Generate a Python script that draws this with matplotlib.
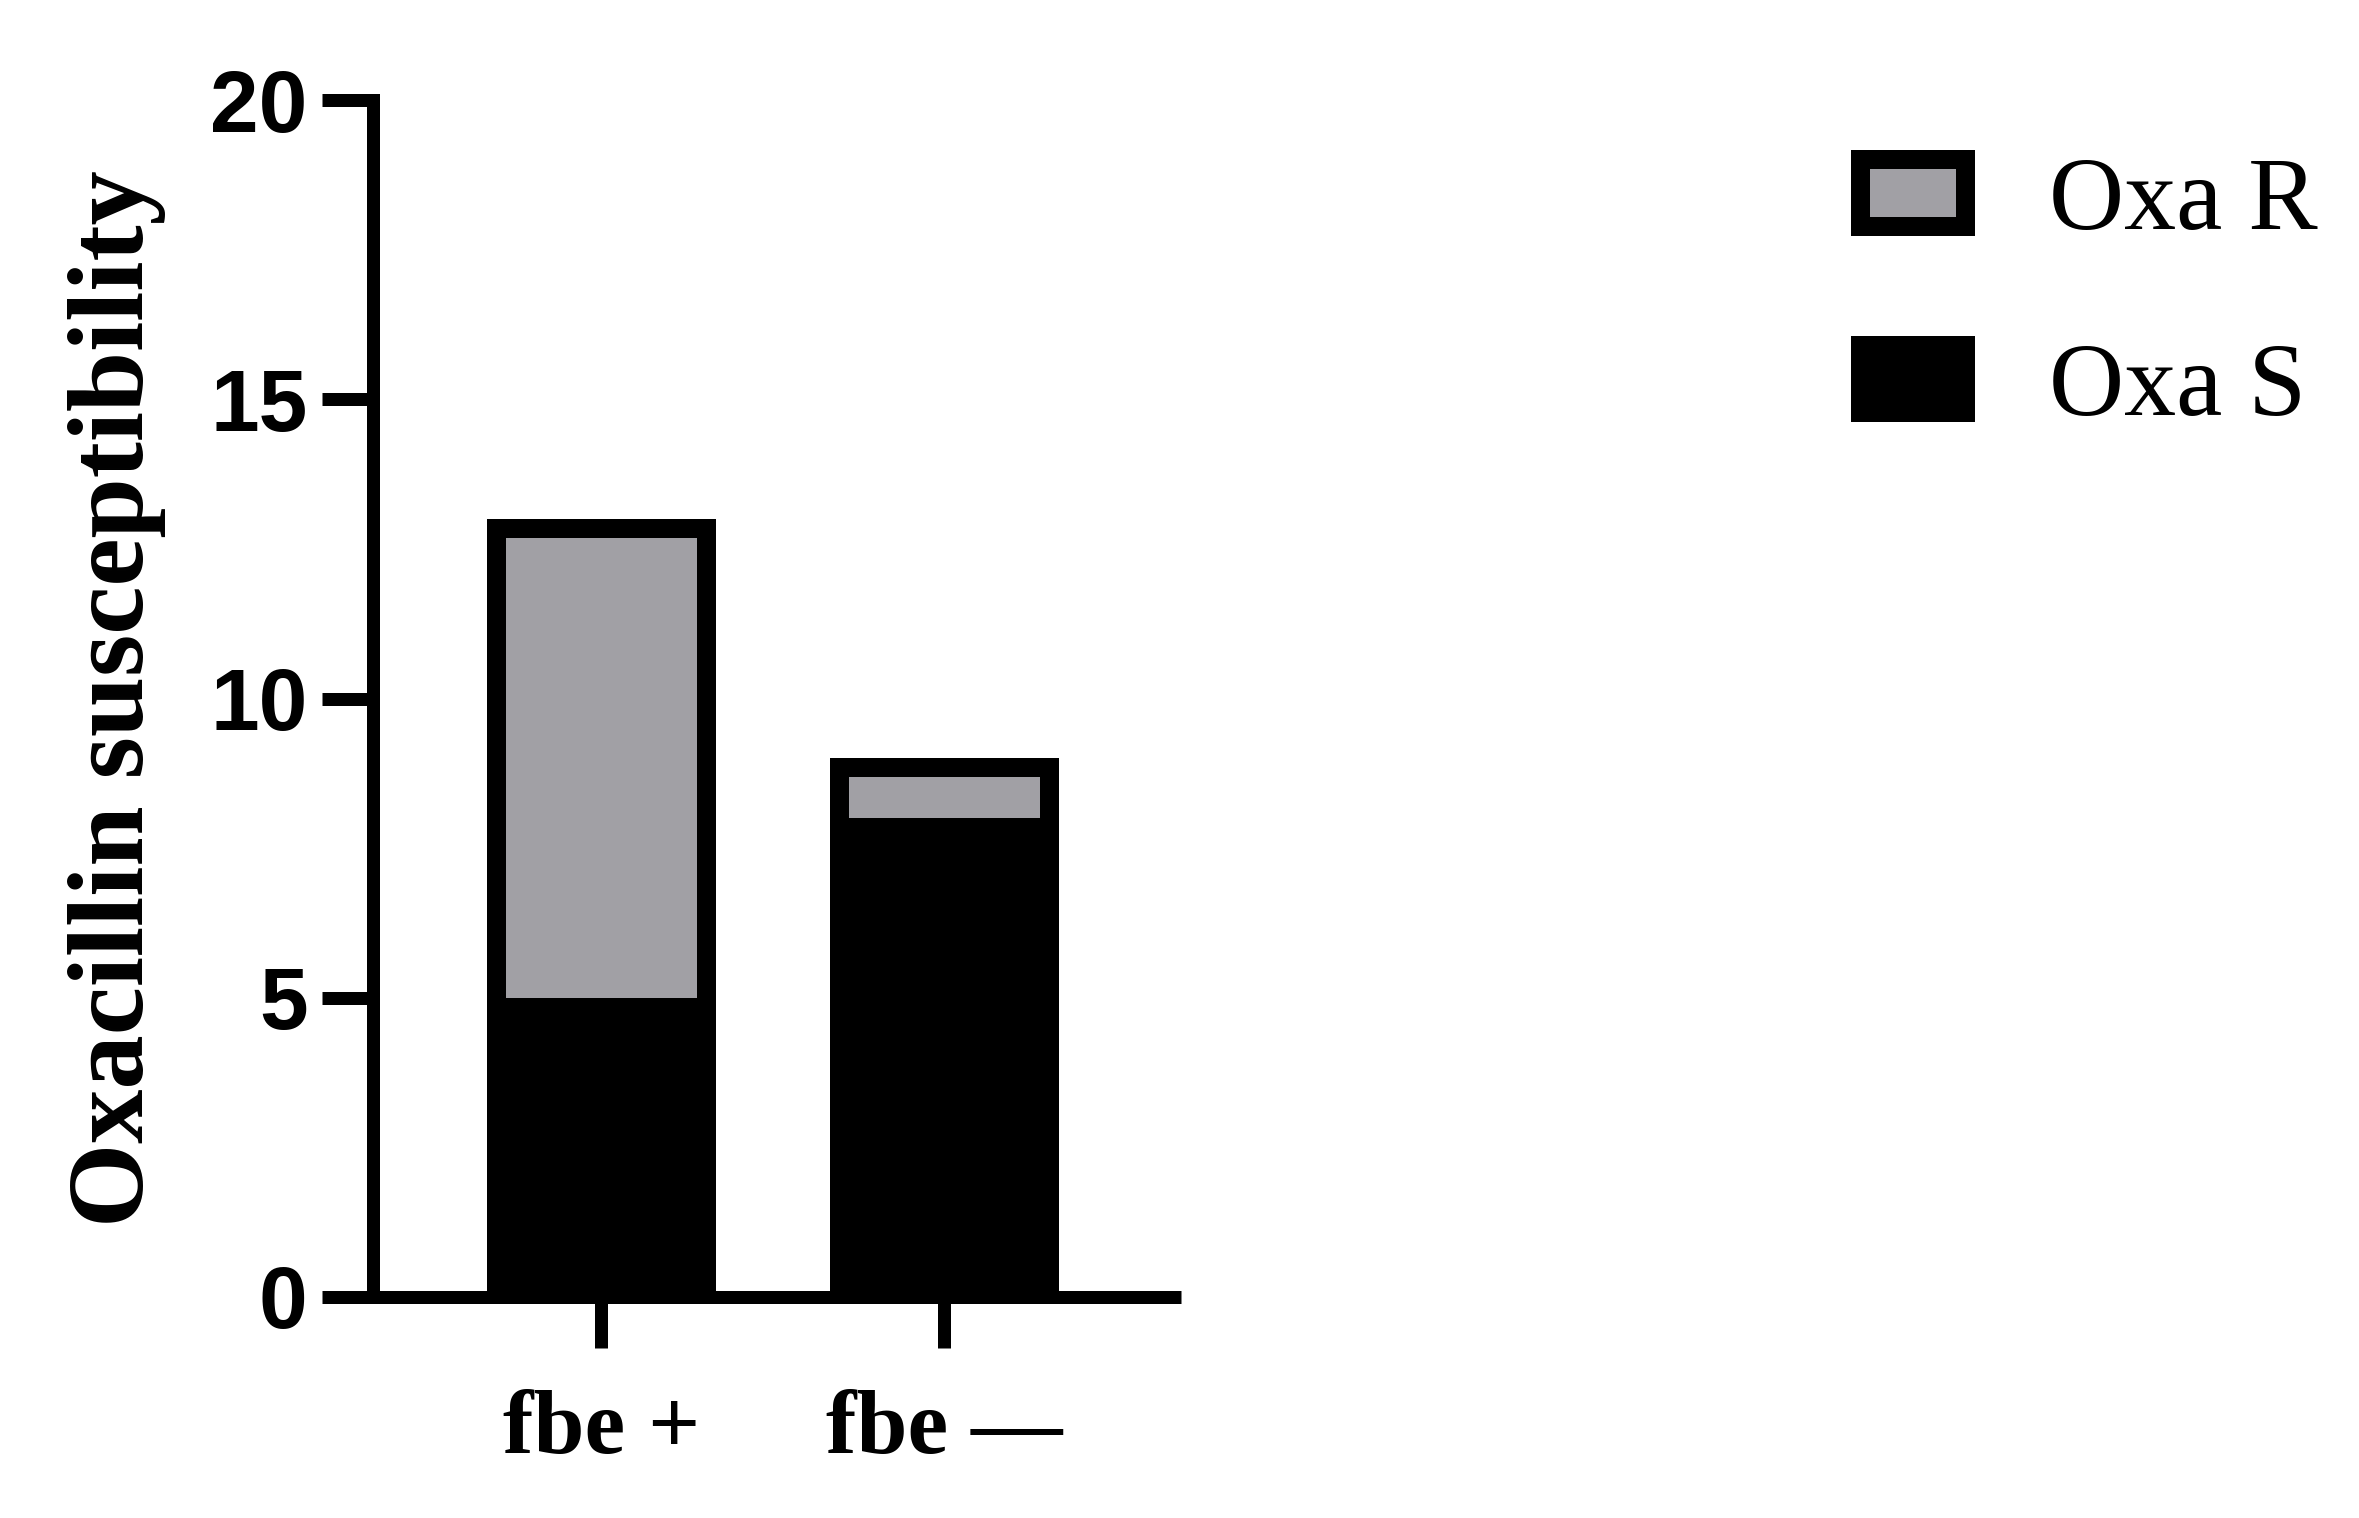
import matplotlib
matplotlib.use("Agg")
import matplotlib.pyplot as plt
from matplotlib.patches import Patch

# data
groups = ["fbe +", "fbe \u2014"]
oxa_s = [5, 8]
oxa_r = [8, 1]
series_labels = ["Oxa R", "Oxa S"]

GRAY = "#a1a0a5"
PX = 72 / 100  # points per pixel at dpi 100

fig = plt.figure(figsize=(23.59, 15.18), dpi=100)
ax = fig.add_axes([0.1583, 0.1456, 0.3423, 0.7885])

x = list(range(len(groups)))
width = 0.667
totals = [s + r for s, r in zip(oxa_s, oxa_r)]

ax.bar(x, oxa_s, width, color="black", linewidth=0)
ax.bar(x, oxa_r, width, bottom=oxa_s, color=GRAY, linewidth=0)
# outline drawn inside the bar (Prism style): double width, clipped to itself
outline = ax.bar(x, totals, width, fill=False, edgecolor="black", linewidth=38 * PX)
for p in outline:
    p.set_clip_path(p)

ax.set_xlim(-0.665, 1.69)
ax.set_ylim(0, 20)
ax.set_yticks([0, 5, 10, 15, 20])
ax.set_xticks(x)
ax.set_xticklabels(groups, fontfamily="Liberation Serif", fontweight="bold", fontsize=66)
for lab in ax.get_yticklabels():
    lab.set_fontfamily("Liberation Sans")
    lab.set_fontweight("bold")
    lab.set_fontsize(63)

for side in ["top", "right"]:
    ax.spines[side].set_visible(False)
ax.spines["left"].set_linewidth(13 * PX)
ax.spines["bottom"].set_linewidth(13 * PX)
ax.spines["left"].set_capstyle("projecting")
ax.spines["bottom"].set_capstyle("butt")

ax.tick_params(axis="y", direction="out", length=51 * PX, width=13 * PX, pad=15 * PX)
ax.tick_params(axis="x", direction="out", length=51 * PX, width=13 * PX, pad=42 * PX)

ax.set_ylabel("Oxacillin susceptibility", fontfamily="Liberation Serif",
              fontweight="bold", fontsize=78)
ax.yaxis.set_label_coords(-0.257, 0.5)

handles = [
    Patch(facecolor=GRAY, edgecolor="black", linewidth=19 * PX),
    Patch(facecolor="black", edgecolor="black", linewidth=19 * PX),
]
fig.legend(handles, series_labels, loc="upper left",
           bbox_to_anchor=(0.7883, 0.8965), bbox_transform=fig.transFigure,
           frameon=False, borderpad=0, borderaxespad=0,
           handlelength=1.008, handleheight=0.614, handletextpad=0.81,
           labelspacing=0.88,
           prop={"family": "Liberation Serif", "size": 75})

fig.savefig("out.png", dpi=100)
